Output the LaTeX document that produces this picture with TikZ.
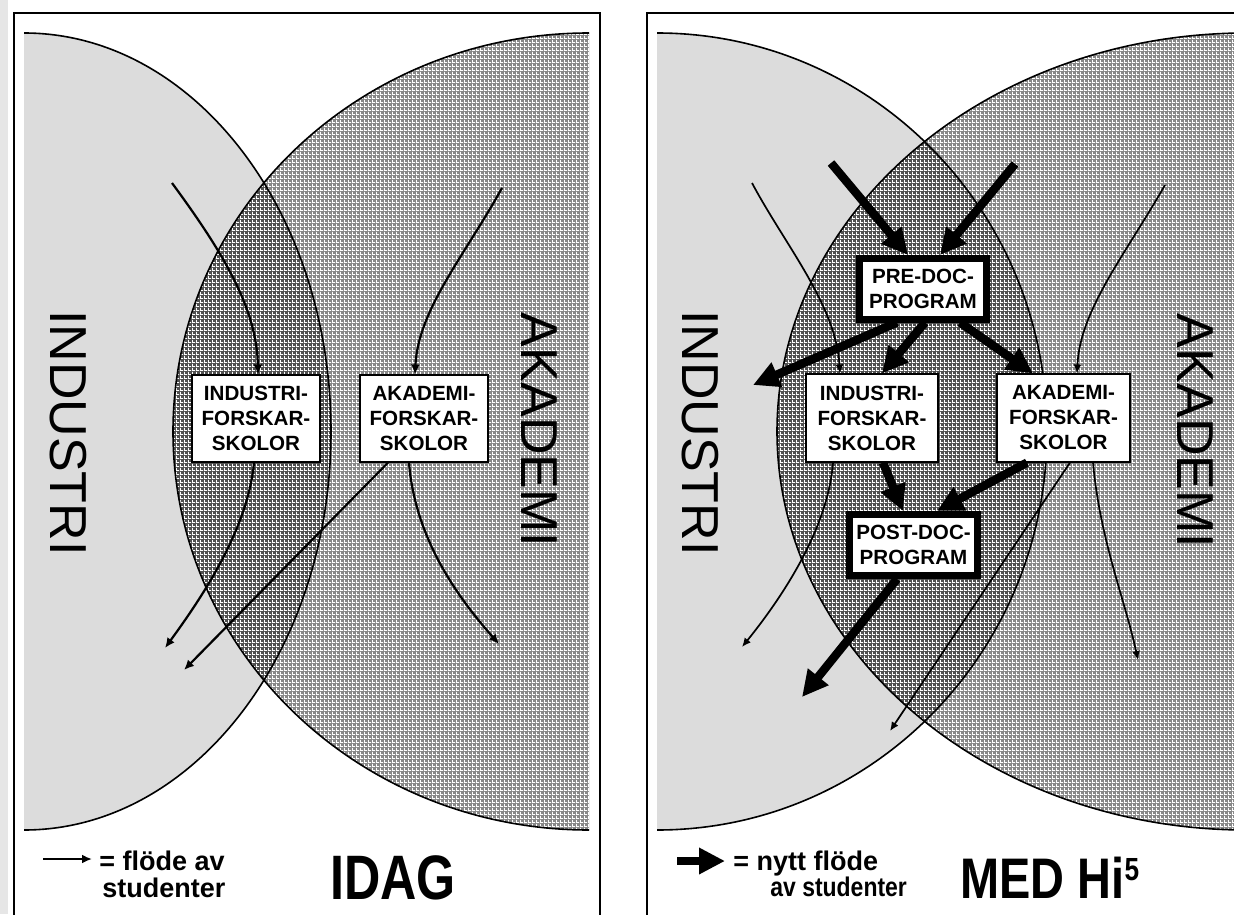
\documentclass[tikz,border=0pt]{standalone}
\usepackage{fontspec}
\setmainfont{Liberation Sans}
\usetikzlibrary{arrows.meta,patterns.meta}
\definecolor{indfill}{HTML}{DCDCDC}
\definecolor{akabase}{HTML}{888888}
\definecolor{lensbase}{HTML}{505050}
\definecolor{stripgray}{HTML}{E6E6E6}
\tikzdeclarepattern{
  name=finegrid,
  type=uncolored,
  bounding box={(0,0) and (2pt,2pt)},
  tile size={(2pt,2pt)},
  code={
    \pgfsetlinewidth{0.5pt}
    \pgfpathmoveto{\pgfqpoint{0pt}{0.25pt}}\pgfpathlineto{\pgfqpoint{2pt}{0.25pt}}
    \pgfpathmoveto{\pgfqpoint{0.25pt}{0pt}}\pgfpathlineto{\pgfqpoint{0.25pt}{2pt}}
    \pgfusepath{stroke}
  }
}
\tikzset{
  frameline/.style={line width=1.4pt},
  outl/.style={line width=0.8pt},
  bigtext/.style={rotate=-90, inner sep=0pt, font=\fontsize{26}{26}\selectfont},
  school/.style={draw, line width=0.6pt, fill=white, align=center, inner sep=0pt,
    font=\fontsize{10.3}{12.5}\selectfont\bfseries},
  prog/.style={draw, line width=3.5pt, fill=white, align=center, inner sep=0pt,
    font=\fontsize{10.3}{12.5}\selectfont\bfseries},
  thinarr/.style={line width=1.1pt, -{Latex[length=5pt,width=4.5pt]}},
  thinarrR/.style={line width=0.85pt, -{Latex[length=4.5pt,width=4pt]}},
  thickarr/.style={line width=4.25pt, -{Triangle[length=13pt,width=12.5pt]}},
  legendtext/.style={anchor=base west, inner sep=0pt, font=\fontsize{13.5}{13.5}\selectfont\bfseries},
  titletext/.style={anchor=base west, inner sep=0pt},
}
\begin{document}
\begin{tikzpicture}[x=0.5pt,y=-0.5pt]
\useasboundingbox (0,0) rectangle (1234,914);
\fill[white] (0,0) rectangle (1234,914);
\fill[stripgray] (0,0) rectangle (8,914);

% ---------- left panel: circles ----------
\begin{scope}
  \clip (24,31) rectangle (589,832);
  \fill[indfill] (24,431.5) ellipse [x radius=153.5pt, y radius=199.25pt];
  \fill[akabase] (589,431.5) ellipse [x radius=208pt, y radius=199.25pt];
  \begin{scope}
    \clip (24,431.5) ellipse [x radius=153.5pt, y radius=199.25pt];
    \fill[lensbase] (589,431.5) ellipse [x radius=208pt, y radius=199.25pt];
  \end{scope}
  \fill[pattern=finegrid, pattern color=white] (589,431.5) ellipse [x radius=208pt, y radius=199.25pt];
  \draw[outl] (24,431.5) ellipse [x radius=153.5pt, y radius=199.25pt];
  \draw[outl] (589,431.5) ellipse [x radius=208pt, y radius=199.25pt];
\end{scope}
\draw[frameline] (14,920) -- (14,13) -- (600,13) -- (600,920);

% ---------- right panel: circles ----------
\begin{scope}
  \clip (657,31) rectangle (1240,832);
  \fill[indfill] (657,431.5) ellipse [x radius=195pt, y radius=199.25pt];
  \fill[akabase] (1247,431.5) ellipse [x radius=235pt, y radius=199.25pt];
  \begin{scope}
    \clip (657,431.5) ellipse [x radius=195pt, y radius=199.25pt];
    \fill[lensbase] (1247,431.5) ellipse [x radius=235pt, y radius=199.25pt];
  \end{scope}
  \fill[pattern=finegrid, pattern color=white] (1247,431.5) ellipse [x radius=235pt, y radius=199.25pt];
  \draw[outl] (657,431.5) ellipse [x radius=195pt, y radius=199.25pt];
  \draw[outl] (1247,431.5) ellipse [x radius=235pt, y radius=199.25pt];
\end{scope}
\draw[frameline] (647,920) -- (647,13) -- (1240,13);

% ---------- big labels ----------
\node[bigtext] (indL) at (68,433) {INDUSTRI};
\node[bigtext] (akaL) at (539,430) {AKADEMI};
\node[bigtext] (indR) at (700,433) {INDUSTRI};
\node[bigtext] (akaR) at (1195,431) {AKADEMI};

% ---------- left panel: boxes and arrows ----------
\node[school, minimum width=64pt, minimum height=43.5pt] (ib) at (256,418.5) {INDUSTRI-\\FORSKAR-\\SKOLOR};
\node[school, minimum width=64pt, minimum height=43.5pt] (ab) at (424,418.5) {AKADEMI-\\FORSKAR-\\SKOLOR};

\coordinate (a1s) at (172,183);
\coordinate (a2s) at (502,188);
\coordinate (a3e) at (165,648);
\coordinate (a4e) at (184,670);
\coordinate (a5e) at (499,644);
\draw[thinarr] (a1s) .. controls (225,255) and (257,310) .. ([xshift=1pt]ib.north);
\draw[thinarr] (a2s) .. controls (465,255) and (418,310) .. ([xshift=-4.5pt]ab.north);
\draw[thinarr] ([xshift=-1pt]ib.south) .. controls (248,530) and (200,600) .. (a3e);
\draw[thinarr] ([xshift=-18pt]ab.south) -- (a4e);
\draw[thinarr] ([xshift=-7.5pt]ab.south) .. controls (415,540) and (460,600) .. (a5e);

% ---------- right panel: boxes ----------
\node[school, minimum width=66pt, minimum height=44pt] (ib2) at (872,418) {INDUSTRI-\\FORSKAR-\\SKOLOR};
\node[school, minimum width=66.5pt, minimum height=44pt] (ab2) at (1063.5,418) {AKADEMI-\\FORSKAR-\\SKOLOR};
\node[prog, minimum width=63.5pt, minimum height=30.25pt] (pre) at (923,288.75) {PRE-DOC-\\PROGRAM};
\node[prog, minimum width=64pt, minimum height=30.5pt] (post) at (913.5,545) {POST-DOC-\\PROGRAM};

% thin arrows right
\coordinate (r1s) at (752,183);
\coordinate (r2s) at (1165,185);
\coordinate (r3e) at (742,647);
\coordinate (r4e) at (890,731);
\coordinate (r5e) at (1138,660);
\draw[thinarrR] (r1s) .. controls (785,245) and (836,305) .. ([xshift=-16pt]ib2.north);
\draw[thinarrR] (r2s) .. controls (1125,255) and (1080,310) .. ([xshift=6.75pt]ab2.north);
\draw[thinarrR] ([xshift=-19.5pt]ib2.south) .. controls (828,530) and (780,600) .. (r3e);
\draw[thinarrR] ([xshift=3.25pt]ab2.south) -- (r4e);
\draw[thinarrR] ([xshift=14.75pt]ab2.south) .. controls (1100,540) and (1125,600) .. (r5e);

% thick arrows right
\coordinate (t1s) at (831,163);
\coordinate (t2s) at (1015,164);
\coordinate (t3e) at (753,385);
\coordinate (t8e) at (802,697);
\draw[thickarr] (t1s) -- ([xshift=-7.5pt]pre.north);
\draw[thickarr] (t2s) -- ([xshift=8.5pt]pre.north);
\draw[thickarr] ([xshift=-13pt]pre.south) -- (t3e);
\draw[thickarr] ([xshift=1pt]pre.south) -- ([xshift=5pt]ib2.north);
\draw[thickarr] ([xshift=18.5pt]pre.south) -- ([xshift=-15.25pt]ab2.north);
\draw[thickarr] ([xshift=5.5pt]ib2.south) -- ([xshift=-5.25pt]post.north);
\draw[thickarr] ([xshift=-18.25pt]ab2.south) -- ([xshift=11.75pt]post.north);
\draw[thickarr] ([xshift=-8.25pt]post.south) -- (t8e);

% ---------- legends and titles ----------
\coordinate (lgLs) at (43,859);
\coordinate (lgLe) at (92,859);
\draw[thinarr] (lgLs) -- (lgLe);
\node[legendtext] (lgL1) at (99,870) {= flöde av};
\node[legendtext] (lgL2) at (102,897) {studenter};
\node[titletext] (idag) at (330,899) {\scalebox{0.8}[1]{\fontsize{31.4}{32}\selectfont\bfseries IDAG}};

\coordinate (lgRs) at (677,861);
\coordinate (lgRe) at (725,861);
\draw[thickarr] (lgRs) -- (lgRe);
\node[legendtext] (lgR1) at (733,870) {= nytt flöde};
\node[legendtext] (lgR2) at (770,896) {\scalebox{0.85}[1]{av studenter}};
\node[titletext] (med) at (960,898) {\scalebox{0.82}[1]{\fontsize{28.6}{30}\selectfont\bfseries MED Hi\raisebox{9pt}{\fontsize{16}{16}\selectfont 5}}};
\end{tikzpicture}
\end{document}
